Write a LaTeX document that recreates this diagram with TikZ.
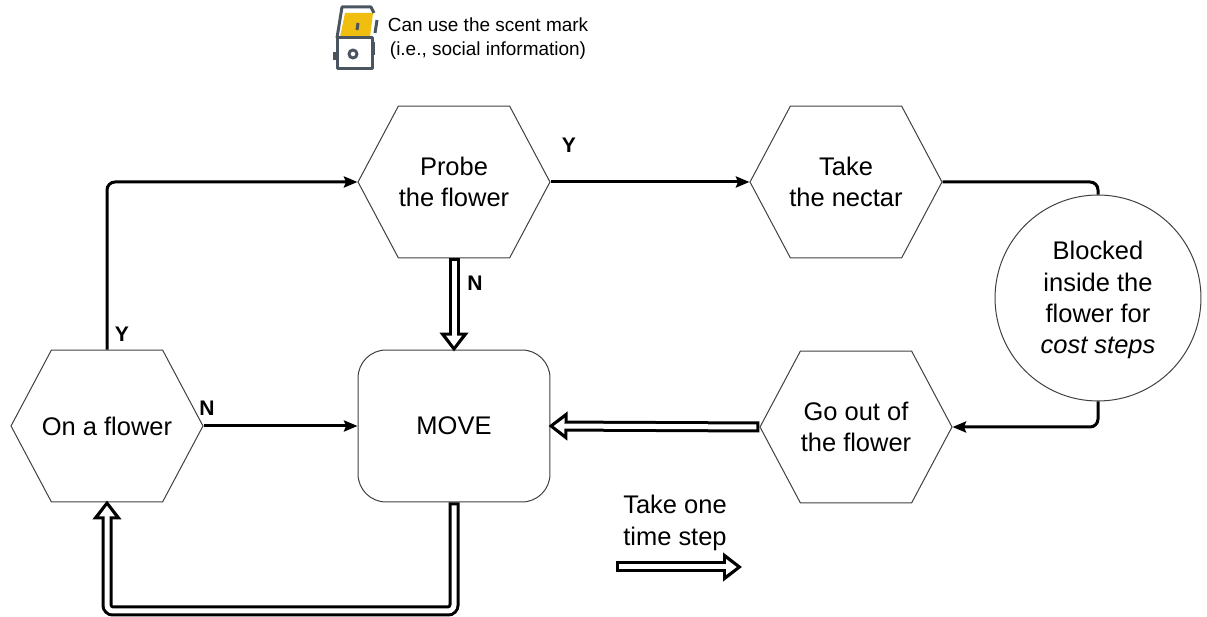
\documentclass[tikz,border=0pt]{standalone}
\usepackage{fontspec}
\setmainfont{Liberation Sans}
\usetikzlibrary{arrows.meta,shapes.symbols}
\definecolor{switchdark}{HTML}{4A5560}
\definecolor{switchyellow}{HTML}{EFBE0F}
\tikzset{
    hexbox/.style={draw=black!75, line width=0.02cm, signal, signal to=west and east,
        signal pointer angle=124, minimum width=3.84cm, minimum height=3.04cm, inner sep=0pt},
    hexlabel/.style={inner sep=0pt, align=center, font=\fontsize{14.5}{17.7}\selectfont},
    flowline/.style={line width=0.06cm, rounded corners=0.16cm,
        -{Stealth[length=0.27cm,width=0.22cm,inset=0.04cm]}},
    plainline/.style={line width=0.06cm, rounded corners=0.16cm},
    hollowarrow/.style={line width=0.1cm, white, rounded corners=0.12cm,
        shorten >=0.064cm, shorten <=0.06cm,
        -{Triangle[length=0.216cm,width=0.306cm,fill=white]},
        preaction={draw, black, line width=0.22cm, shorten >=-0.04cm, shorten <=0pt,
            -{Triangle[length=0.38cm,width=0.56cm]}}},
    answer/.style={font=\fontsize{12}{14}\bfseries\selectfont, inner sep=0pt},
    switchline/.style={draw=switchdark, line width=0.06cm, line join=round}
}
\begin{document}
\begin{tikzpicture}[x=0.02cm,y=-0.02cm]
    \useasboundingbox (0,0) rectangle (1207,617);

    \node[hexbox, label={[hexlabel]center:On a flower}] (onflower) at (107,426) {};
    \node[hexbox, label={[hexlabel]center:{Probe\\the flower}}] (probe) at (454,182) {};
    \node[hexbox, label={[hexlabel]center:{Take\\the nectar}}] (nectar) at (846,182) {};
    \node[hexbox, label={[hexlabel]center:{Go out of\\the flower}}] (goout) at (856,427) {};
    \node[draw=black!75, line width=0.02cm, rounded corners=0.56cm, minimum width=3.84cm,
        minimum height=3.04cm, label={[hexlabel]center:MOVE}] (move) at (454,426) {};
    \node[draw=black!75, line width=0.02cm, circle, minimum size=4.12cm, inner sep=0pt,
        label={[hexlabel,yshift=-0.04cm]center:{Blocked\\inside the\\flower for\\\textit{cost steps}}}]
        (blocked) at (1098,298) {};

    \draw[flowline] (onflower.north) |- (probe.west);
    \draw[flowline] (probe.east) -- (nectar.west);
    \draw[plainline] (nectar.east) -| (blocked.north);
    \draw[flowline] (blocked.south) |- (goout.east);
    \draw[flowline] (onflower.east) -- (move.west);

    \coordinate (loopcorner) at (107,611);
    \coordinate (stepstart) at (616,567);
    \coordinate (stepend) at (740,567);
    \draw[hollowarrow] (probe.south) -- (move.north);
    \draw[hollowarrow] (goout.west) -- (move.east);
    \draw[hollowarrow] (move.south) |- (loopcorner) -- (onflower.south);
    \draw[hollowarrow] (stepstart) -- (stepend);

    \node[answer] (yprobe) at (569,145) {Y};
    \node[answer] (nprobe) at (475,283) {N};
    \node[answer] (yflower) at (122,334) {Y};
    \node[answer] (nflower) at (207,408) {N};

    \node[align=center, inner sep=0pt, font=\fontsize{14.5}{18}\selectfont] (steplabel) at (675,523)
        {Take one\\time step};

    % switch icon
    \fill[switchyellow] (340,37) -- (345,13) -- (373,13) -- (370,37) -- cycle;
    \draw[switchline] (337,38) rectangle (372,69);
    \draw[switchline] (337,38) -- (342,7) -- (371,7) -- (374,13);
    \draw[switchline] (358,23) -- (357,30);
    \draw[switchline] (353,54) circle (4);
    \draw[switchline] (377,20) -- (375,33);
    \draw[switchline] (373,42) -- (373,55);
    \draw[switchline] (334,52) -- (334,60);
    \node[align=center, inner sep=0pt, font=\fontsize{10.8}{13.6}\selectfont] (switchlabel) at (488,38.5)
        {Can use the scent mark\\(i.e., social information)};
\end{tikzpicture}
\end{document}
